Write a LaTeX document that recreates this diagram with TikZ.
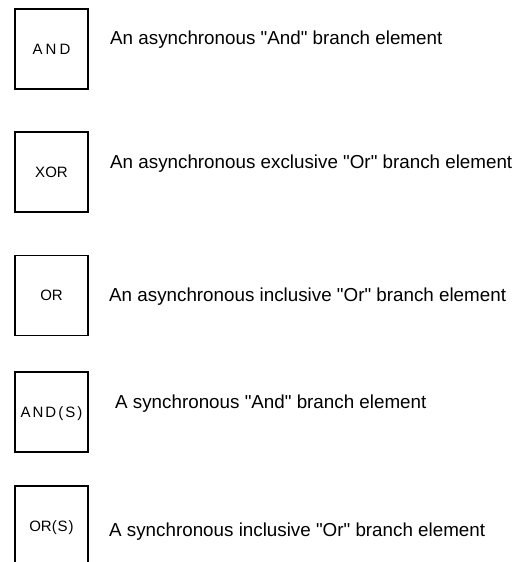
\documentclass[tikz,border=0pt]{standalone}
\usepackage{fontspec}
\setmainfont{Liberation Sans}[Ligatures=TeXOff]
\tikzset{
  elbox/.style={draw=black, line width=1.3pt, inner sep=0pt, minimum width=73pt, minimum height=80pt,
    font=\fontsize{15pt}{15pt}\selectfont, text height=10.7pt, text depth=0pt, align=center},
  desc/.style={anchor=base west, inner sep=0pt, font=\fontsize{18.8pt}{20pt}\selectfont, text=black}
}
\begin{document}
\begin{tikzpicture}[x=1pt,y=-1pt]
\clip (0,0) rectangle (531,562);
\fill[white] (0,0) rectangle (531,562);
\node[elbox] (b1) at (51.5,49) {A\kern3pt N\kern3pt D};
\node[elbox] (b2) at (51.5,172) {XOR};
\node[elbox] (b3) at (51.5,295.5) {OR};
\node[elbox] (b4) at (51.5,412) {A\kern2pt N\kern2pt D\kern2pt(\kern2pt S\kern2pt)};
\node[elbox] (b5) at (51.5,526) {OR(\kern1pt S\kern1pt)};
\node[desc] (t1) at (110,44) {An asynchronous "And" branch element};
\node[desc] (t2) at (110,168) {An asynchronous exclusive "Or" branch element};
\node[desc] (t3) at (109,301) {An asynchronous inclusive "Or" branch element};
\node[desc] (t4) at (115,408) {A synchronous "And" branch element};
\node[desc] (t5) at (109,536) {A synchronous inclusive "Or" branch element};
\end{tikzpicture}
\end{document}
